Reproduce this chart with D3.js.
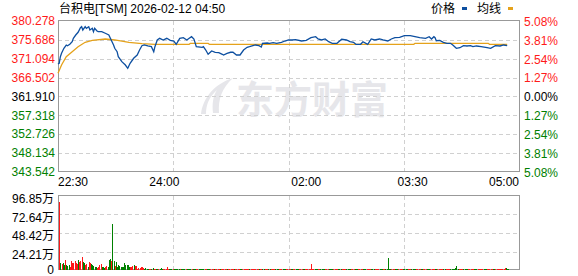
<!DOCTYPE html>
<html>
<head>
<meta charset="utf-8">
<script src="https://cdn.jsdelivr.net/npm/d3@7"></script>
<style>
  body { margin: 0; background: #fff; }
  svg { display: block; font-family: "Liberation Sans", Arial, "Noto Sans CJK SC", sans-serif; font-size: 12px; }
</style>
</head>
<body>
<svg id="chart"></svg>
<script>
// minutes after 22:30 and the last price at that minute
var priceMin = [0, 1, 2, 3, 5, 7, 8, 10, 12, 13,
  15, 17, 19, 20, 21, 23, 24, 26, 27, 29,
  30, 31, 33, 34, 37, 40, 43, 45, 47, 48,
  50, 51, 54, 57, 59, 61, 64, 67, 69, 71,
  73, 76, 79, 81, 82, 84, 86, 89, 92, 95,
  98, 100, 103, 106, 109, 111, 113, 115, 117, 122,
  123, 125, 127, 130, 133, 136, 139, 140, 143, 146,
  148, 151, 154, 157, 160, 162, 167, 170, 172, 173,
  177, 179, 182, 185, 189, 192, 195, 198, 201, 206,
  210, 214, 218, 220, 223, 226, 229, 232, 236, 240,
  244, 247, 250, 252, 256, 258, 262, 265, 268, 272,
  275, 279, 282, 285, 289, 293, 298, 302, 306, 311,
  314, 316, 318, 319, 320, 323, 326, 329, 332, 334,
  337, 340, 343, 346, 349, 351, 354, 358, 363, 366,
  370, 374, 377, 380];
var priceVal = [369.80, 369.99, 371.59, 372.42, 373.64, 374.44, 374.27, 374.61, 375.24, 376.07,
  376.87, 377.53, 378.65, 378.89, 378.09, 378.89, 378.50, 378.89, 378.09, 378.50,
  377.68, 378.50, 377.85, 377.68, 377.68, 377.29, 376.87, 375.66, 374.44, 373.64,
  372.81, 371.59, 370.38, 369.57, 368.77, 369.99, 371.21, 372.01, 373.22, 374.27,
  374.44, 374.20, 374.03, 372.81, 374.03, 375.66, 376.07, 375.66, 376.07, 375.58,
  375.41, 374.61, 376.07, 376.22, 375.66, 376.07, 376.46, 375.90, 374.03, 373.88,
  374.03, 373.22, 372.18, 372.98, 372.67, 372.57, 372.18, 372.01, 372.42, 372.67,
  372.67, 372.01, 372.01, 373.22, 373.88, 374.03, 374.44, 374.27, 373.95, 374.85,
  374.93, 374.85, 375.00, 374.85, 375.10, 375.41, 375.66, 375.66, 375.73, 375.41,
  375.58, 376.22, 376.46, 375.90, 375.66, 375.90, 375.24, 374.85, 374.85, 375.83,
  375.66, 375.24, 375.10, 374.61, 374.61, 375.24, 374.61, 375.90, 375.66, 375.90,
  375.66, 375.41, 375.90, 376.22, 376.31, 376.70, 376.70, 376.46, 376.22, 376.07,
  376.46, 375.90, 376.46, 376.22, 375.49, 375.58, 375.10, 374.85, 374.85, 374.44,
  373.64, 373.78, 374.27, 374.20, 374.27, 374.03, 374.20, 374.03, 373.78, 373.64,
  374.27, 374.20, 374.44, 374.27];

var avgMin = [0, 3, 7, 12, 17, 23, 29, 40, 48, 60, 71, 82, 111, 112, 127, 128, 301, 302, 364, 365, 380];
var avgVal = [367.56, 369.57, 371.59, 372.81, 374.03, 375.10, 375.58, 375.90, 375.66, 375.10,
  374.76, 374.61, 374.61, 374.85, 374.85, 374.61, 374.61, 374.85, 374.85, 374.61, 374.61];

// volume per minute in 万 shares; positive = up bar (red), negative = down bar (green)
var volume = [89, -8.7, 7.9, -8.7, -7.0, 13.1, -6.5, -5.7, -6.5, 4.4,
  11.8, 8.7, 8.7, 11.8, 8.7, 7.9, -13.1, 10.9, 12.2, 17.4,
  -10.9, -9.6, 6.5, 7.9, -4.4, 10.9, 9.6, -7.9, -6.5, -5.2,
  -4.4, -4.4, 2.2, 3.5, 6.5, 7.9, -3.5, -4.4, -2.2, 4.4,
  5.7, -4.4, -13.1, -14.4, 11.8, -60.6, -11.8, 5.2, -10.9, -3.5,
  -6.5, -5.2, -4.4, -3.5, -4.4, -9.6, -6.5, -6.5, -6.5, -3.5,
  4.4, 3.5, 5.2, -6.5, 5.2, 5.2, 1.7, 2.2, 3.0, 3.5,
  3.5, 2.2, -1.3, -2.2, -1.3, -1.0, 1.3, 1.0, -1.3, -2.0,
  1.0, 1.3, -1.0, -1.0, 1.0, -1.3, -2.0, -1.0, 1.3, 1.0,
  1.3, 3.5, 1.0, -1.0, -0.8, -1.0, 0.8, -0.8, -0.8, -0.8,
  -0.8, -0.8, 0.8, -0.8, -1.0, -0.8, -0.8, 0.8, -0.8, -0.8, -1.0, -0.8, 0.8, -0.8, -0.8, -0.8, 0.8, 0.8, -0.8, -0.8,
  -0.8, -0.8, -1.0, 0.8, 0.8, -0.8, -0.8, -0.8, 0.8, 0.8, 0.8, -0.8, 0.8, 0.8, 0.8, 0.8, -0.8, 0.8, 0.8, 0.8,
  0.8, 0.8, -0.8, 0.8, 0.8, 0.8, 0.8, 0.8, -0.8, 0.8, 0.8, 0.8, 0.8, -0.8, -0.8, 0.8, 0.8, 0.8, 0.8, 0.8,
  0.8, -0.8, 0.8, 0.8, 0.8, 0.8, 0.8, 0.8, 0.8, -0.8, 0.8, 0.8, -0.8, -0.8, 0.8, 0.8, 0.8, -0.8, -0.8, 0.8,
  0.8, 0.8, 0.8, -0.8, -0.8, -0.8, 0.8, 0.8, 0.8, -0.8, -0.8, -0.8, 0.8, 0.8, 0.8, 0.8, -0.8, -0.8, 0.8, 0.8,
  -0.8, -0.8, -0.8, 0.8, 0.8, 0.8, -0.8, -0.8, 0.8, 0.8, 0.8, 0.8, 0.8, 7.9, 0.8, 0.8, -0.8, -0.8, -0.8, 0.8,
  0.8, -0.8, -0.8, -0.8, -0.8, 0.8, 0.8, 0.8, -0.8, -0.8, -0.8, -0.8, 0.8, 0.8, 0.8, 0.8, -0.8, -0.8, -0.8, 0.8,
  0.8, 0.8, 0.8, -0.8, -0.8, -0.8, -0.8, 0.8, 0.8, 0.8, -0.8, -0.8, -0.8, 0.8, 0.8, 0.8, 0.8, -0.8, -0.8, -0.8,
  0.8, 0.8, 0.8, 0.8, -0.8, -0.8, -0.8, 0.8, 0.8, 0.8, 0.8, -0.8, -0.8, -0.8, 0.8, 0.8, -0.8, -1.0, -15.7, -0.8,
  -0.8, 0.8, 0.8, 0.8, -0.8, -0.8, -0.8, 0.8, 0.8, 0.8, 0.8, -0.8, -0.8, -0.8, -0.8, 0.8, 0.8, 0.8, -0.8, -0.8,
  -0.8, -0.8, 0.8, 0.8, 0.8, 0.8, -0.8, -0.8, 0.8, 0.8, 0.8, -0.8, -0.8, -0.8, 0.8, 0.8, 0.8, 0.8, -0.8, -0.8,
  0.8, 0.8, 0.8, 0.8, 0.8, -0.8, -0.8, 0.8, 0.8, 0.8, 0.8, -0.8, -0.8, -0.8, -0.8, -3.0, -5.0, -1.0, 0.8, 0.8,
  0.8, 0.8, -0.8, -0.8, -0.8, -0.8, 0.8, 0.8, 0.8, 0.8, 0.8, -0.8, -0.8, -0.8, 0.8, 0.8, 0.8, 0.8, 0.8, -0.8,
  -0.8, -0.8, 0.8, 0.8, 0.8, 0.8, 0.8, -0.8, -0.8, 0.8, 0.8, 0.8, 0.8, 0.8, 0.8, 0.8, 0.8, 2.6, -2.6, -0.8, -0.8];

var priceTicks = [380.278, 375.686, 371.094, 366.502, 361.910, 357.318, 352.726, 348.134, 343.542];
var priceLabels = ["380.278", "375.686", "371.094", "366.502", "361.910", "357.318", "352.726", "348.134", "343.542"];
var pctLabels = ["5.08%", "3.81%", "2.54%", "1.27%", "0.00%", "1.27%", "2.54%", "3.81%", "5.08%"];
var volTicks = [96.85, 72.64, 48.42, 24.21, 0];
var volLabels = ["96.85万", "72.64万", "48.42万", "24.21万", "0"];
var timeTicks = [0, 90, 210, 300, 390];
var timeLabels = ["22:30", "24:00", "02:00", "03:30", "05:00"];
var gridMin = [97.5, 195, 292.5];

var title = "台积电[TSM] 2026-02-12 04:50";
var RED = "#ff1a1a", GREEN = "#008000", BLUE = "#0d4fa0", ORANGE = "#e5a21b";

var svg = d3.select("#chart").attr("width", 578).attr("height", 276);

var x = d3.scaleLinear().domain([0, 390]).range([58, 519]);
var yP = d3.scaleLinear().domain([343.542, 380.278]).range([172, 21]);
var yV = d3.scaleLinear().domain([0, 96.85]).range([270, 196]);

function px(v) { return Math.round(v) + 0.5; }
function labelColor(i) { return i < 4 ? RED : (i == 4 ? "#000" : GREEN); }

// watermark
var wm = svg.append("g").attr("fill", "#e6e6ea");
wm.append("path").attr("d", "M201,114 C203,98 214,84 233,78 C222,88 218,99 219,113 L213,113 C212,104 213,96 217,90 C209,97 206,105 206,114 Z");
wm.append("text").attr("x", 236).attr("y", 113).attr("font-size", 38).attr("font-weight", "bold")
  .attr("font-family", "Noto Sans CJK SC").text("东方财富");

// gridlines
var grid = svg.append("g").attr("stroke", "#d0d0d0").attr("stroke-dasharray", "4,3").attr("fill", "none");
grid.selectAll(".hp").data(priceTicks.slice(1, -1)).enter().append("line")
  .attr("x1", 58).attr("x2", 519).attr("y1", d => px(yP(d))).attr("y2", d => px(yP(d)));
grid.selectAll(".hv").data(volTicks.slice(1, -1)).enter().append("line")
  .attr("x1", 58).attr("x2", 519).attr("y1", d => px(yV(d))).attr("y2", d => px(yV(d)));
grid.selectAll(".vp").data(gridMin).enter().append("line")
  .attr("x1", d => px(x(d))).attr("x2", d => px(x(d))).attr("y1", 21).attr("y2", 172);
grid.selectAll(".vv").data(gridMin).enter().append("line")
  .attr("x1", d => px(x(d))).attr("x2", d => px(x(d))).attr("y1", 196).attr("y2", 270);

// frames
svg.append("rect").attr("x", 58.5).attr("y", 20.5).attr("width", 461).attr("height", 151)
  .attr("fill", "none").attr("stroke", "#999");
svg.append("rect").attr("x", 58.5).attr("y", 195.5).attr("width", 461).attr("height", 74)
  .attr("fill", "none").attr("stroke", "#999");

// price + average lines
var line = d3.line().x(d => x(d[0])).y(d => yP(d[1]));
svg.append("path").datum(avgMin.map((m, i) => [m, avgVal[i]]))
  .attr("d", line).attr("fill", "none").attr("stroke", ORANGE).attr("stroke-width", 1.3);
svg.append("path").datum(priceMin.map((m, i) => [m, priceVal[i]]))
  .attr("d", line).attr("fill", "none").attr("stroke", BLUE).attr("stroke-width", 1.3);

// volume bars
svg.append("g").attr("shape-rendering", "crispEdges").selectAll("rect")
  .data(volume).enter().append("rect")
  .attr("x", (d, i) => Math.round(x(i + 1)))
  .attr("width", 1)
  .attr("y", d => Math.min(yV(Math.abs(d)), 269))
  .attr("height", d => Math.max(1, 270 - yV(Math.abs(d))))
  .attr("fill", d => d >= 0 ? RED : GREEN);

// left price labels
svg.selectAll(".pl").data(priceTicks).enter().append("text")
  .attr("x", 55).attr("y", d => yP(d)).attr("dy", "0.35em").attr("text-anchor", "end")
  .attr("fill", (d, i) => labelColor(i)).text((d, i) => priceLabels[i]);

// right percent labels
svg.selectAll(".rl").data(priceTicks).enter().append("text")
  .attr("x", 524).attr("y", d => yP(d)).attr("dy", "0.4em")
  .attr("fill", (d, i) => labelColor(i)).text((d, i) => pctLabels[i]);

// volume labels
svg.selectAll(".vl").data(volTicks).enter().append("text")
  .attr("x", 54).attr("y", d => d > 0 ? yV(d) + 3 : yV(d) - 0.5).attr("dy", "0.35em").attr("text-anchor", "end")
  .attr("fill", "#000").text((d, i) => volLabels[i]);

// time labels
svg.selectAll(".tl").data(timeTicks).enter().append("text")
  .attr("x", d => x(d)).attr("y", 186)
  .attr("text-anchor", (d, i) => i == 0 ? "start" : (i == timeTicks.length - 1 ? "end" : "middle"))
  .attr("fill", "#000").text((d, i) => timeLabels[i]);

// title + legend
svg.append("text").attr("x", 59).attr("y", 13).attr("fill", "#000").text(title);
svg.append("text").attr("x", 431).attr("y", 13).attr("fill", "#000").text("价格");
svg.append("rect").attr("x", 462).attr("y", 7).attr("width", 5).attr("height", 3).attr("fill", BLUE);
svg.append("text").attr("x", 477).attr("y", 13).attr("fill", "#000").text("均线");
svg.append("rect").attr("x", 508).attr("y", 7).attr("width", 5).attr("height", 3).attr("fill", ORANGE);
</script>
</body>
</html>
